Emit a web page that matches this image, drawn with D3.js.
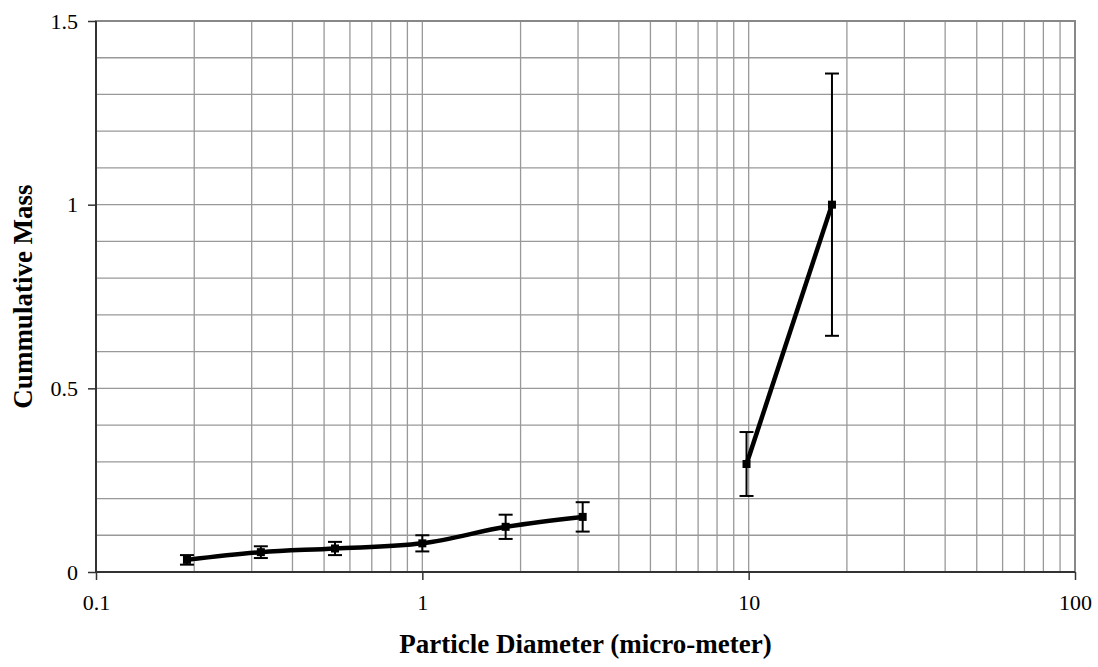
<!DOCTYPE html>
<html>
<head>
<meta charset="utf-8">
<script src="https://cdn.jsdelivr.net/npm/d3@7"></script>
<style>
  body { margin: 0; background: #fff; }
  svg { display: block; }
  .tick text { font-family: 'Liberation Serif', 'Times New Roman', serif; font-size: 22px; fill: #000; }
</style>
</head>
<body>
<svg id="chart" width="1098" height="667"></svg>
<script>
// dados
const diametros = [0.19, 0.32, 0.54, 1.0, 1.8, 3.1, 9.85, 18];
const massas = [0.033, 0.054, 0.064, 0.078, 0.123, 0.150, 0.294, 1.0];
const erros = [0.013, 0.016, 0.018, 0.022, 0.033, 0.040, 0.087, 0.357];
const trechos = [0, 0, 0, 0, 0, 0, 1, 1];
const ticksX = [0.1, 1, 10, 100];
const ticksY = [0, 0.5, 1, 1.5];

const margem = {left: 96, top: 21, right: 23, bottom: 95};
const largura = 1098, altura = 667;

const svg = d3.select("#chart");

const x = d3.scaleLog().domain([0.1, 100]).range([margem.left, largura - margem.right]);
const y = d3.scaleLinear().domain([0, 1.5]).range([altura - margem.bottom, margem.top]);

// grade vertical (menores do log)
const linhasX = [];
[0.1, 1, 10].forEach(base => { for (let k = 1; k <= 9; k++) linhasX.push(base * k); });
linhasX.push(100);

svg.append("g")
  .selectAll("line")
  .data(linhasX)
  .enter().append("line")
    .attr("x1", d => x(d)).attr("x2", d => x(d))
    .attr("y1", y(0)).attr("y2", y(1.5))
    .attr("stroke", "#999").attr("stroke-width", 1.3);

svg.append("g")
  .selectAll("line")
  .data(d3.range(0, 16).map(i => i / 10))
  .enter().append("line")
    .attr("x1", x(0.1)).attr("x2", x(100))
    .attr("y1", d => y(d)).attr("y2", d => y(d))
    .attr("stroke", "#999").attr("stroke-width", 1.3);

// borda
svg.append("rect")
  .attr("x", x(0.1)).attr("y", y(1.5))
  .attr("width", x(100) - x(0.1)).attr("height", y(0) - y(1.5))
  .attr("fill", "none").attr("stroke", "#888").attr("stroke-width", 2);

// eixos
const eixoX = d3.axisBottom(x).tickValues(ticksX).tickFormat(d3.format("")).tickSize(8).tickPadding(14);
const eixoY = d3.axisLeft(y).tickValues(ticksY).tickFormat(d3.format("")).tickSize(8).tickPadding(10);

const gx = svg.append("g").attr("transform", `translate(0,${y(0)})`).call(eixoX);
const gy = svg.append("g").attr("transform", `translate(${x(0.1)},0)`).call(eixoY);

[gx, gy].forEach(g => {
  g.attr("font-family", null).attr("font-size", null);
  g.select(".domain").attr("stroke", "#333").attr("stroke-width", 2);
  g.selectAll(".tick line").attr("stroke", "#333").attr("stroke-width", 1.5);
});
gx.select(".domain").attr("d", `M${x(0.1)},0H${x(100)}`);
gy.select(".domain").attr("d", `M0,${y(0)}V${y(1.5)}`);

// linhas suavizadas
const pontos = diametros.map((d, i) => ({x: d, y: massas[i], e: erros[i], t: trechos[i]}));
const linha = d3.line().x(d => x(d.x)).y(d => y(d.y)).curve(d3.curveCatmullRom.alpha(0));

d3.groups(pontos, d => d.t).forEach(([t, ps]) => {
  svg.append("path")
    .datum(ps)
    .attr("d", linha)
    .attr("fill", "none").attr("stroke", "#000").attr("stroke-width", 4.5)
    .attr("stroke-linejoin", "round");
});

// barras de erro
const barras = svg.append("g").attr("stroke", "#000").attr("stroke-width", 2);
pontos.forEach(p => {
  const cx = x(p.x);
  barras.append("line").attr("x1", cx).attr("x2", cx).attr("y1", y(p.y - p.e)).attr("y2", y(p.y + p.e));
  barras.append("line").attr("x1", cx - 7).attr("x2", cx + 7).attr("y1", y(p.y - p.e)).attr("y2", y(p.y - p.e));
  barras.append("line").attr("x1", cx - 7).attr("x2", cx + 7).attr("y1", y(p.y + p.e)).attr("y2", y(p.y + p.e));
});

// marcadores
svg.append("g")
  .selectAll("rect")
  .data(pontos)
  .enter().append("rect")
    .attr("x", d => x(d.x) - 4).attr("y", d => y(d.y) - 4)
    .attr("width", 8).attr("height", 8)
    .attr("fill", "#000");

// titulos
svg.append("text")
  .attr("x", (x(0.1) + x(100)) / 2).attr("y", 653)
  .attr("text-anchor", "middle")
  .attr("font-family", "'Liberation Serif', 'Times New Roman', serif")
  .attr("font-weight", "bold").attr("font-size", 27)
  .text("Particle Diameter (micro-meter)");

svg.append("text")
  .attr("transform", `translate(32,${(y(0) + y(1.5)) / 2}) rotate(-90)`)
  .attr("text-anchor", "middle")
  .attr("font-family", "'Liberation Serif', 'Times New Roman', serif")
  .attr("font-weight", "bold").attr("font-size", 27)
  .text("Cummulative Mass");
</script>
</body>
</html>
